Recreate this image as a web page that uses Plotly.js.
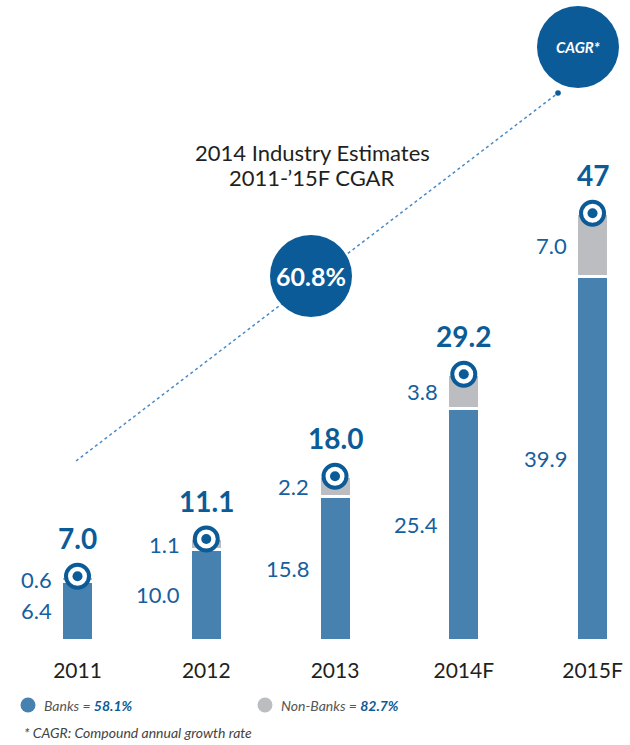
<!DOCTYPE html>
<html>
<head>
<meta charset="utf-8">
<script src="https://cdn.plot.ly/plotly-3.0.1.min.js"></script>
<style>html,body{margin:0;padding:0;background:#fff;}#chart{width:630px;height:745px;}</style>
</head>
<body>
<div id="chart"></div>
<script>
// ---- data ----
var categories = ['2011', '2012', '2013', '2014F', '2015F'];
var banks = [6.4, 10.0, 15.8, 25.4, 39.9];
var nonBanks = [0.6, 1.1, 2.2, 3.8, 7.0];
var totalLabels = ['7.0', '11.1', '18.0', '29.2', '47'];
var cagrTotal = '60.8%';
var cagrBanks = '58.1%';
var cagrNonBanks = '82.7%';

// ---- styling ----
var BLUE_BAR = '#4781af';
var GREY_BAR = '#bcbdc0';
var DARK_BLUE = '#0b5b98';
var TEXT_BLUE = '#1560a0';
var DARK = '#231f20';
var W = 630, PH = 640;
function px(x) { return x / W; }
function py(y) { return 1 - y / PH; }

var idx = categories.map(function (c, i) { return i; });
var totals = banks.map(function (b, i) { return b + nonBanks[i]; });

var traces = [
  { type: 'bar', x: idx, y: banks, width: 0.2485, name: 'Banks',
    marker: { color: BLUE_BAR, line: { color: '#fff', width: 3 } }, hoverinfo: 'skip' },
  { type: 'bar', x: idx, y: nonBanks, width: 0.2485, name: 'Non-Banks',
    marker: { color: GREY_BAR, line: { color: '#fff', width: 3 } }, hoverinfo: 'skip' },
  { type: 'scatter', mode: 'markers', x: idx, y: totals,
    marker: { size: 23, color: '#fff', line: { color: DARK_BLUE, width: 4 } }, hoverinfo: 'skip' },
  { type: 'scatter', mode: 'markers', x: idx, y: totals,
    marker: { size: 10, color: DARK_BLUE, line: { width: 0 } }, hoverinfo: 'skip' }
];

var ann = [];
idx.forEach(function (i) {
  ann.push({ x: i, y: totals[i], xref: 'x', yref: 'y', yshift: 38, text: '<b>' + totalLabels[i] + '</b>',
    showarrow: false, xanchor: 'center', yanchor: 'middle',
    font: { family: 'Lato, Roboto, sans-serif', size: 28, color: DARK_BLUE } });
  ann.push({ x: i, y: banks[i] / 2, xref: 'x', yref: 'y', xshift: -24, text: banks[i].toFixed(1),
    showarrow: false, xanchor: 'right', yanchor: 'middle',
    font: { family: 'Lato, Roboto, sans-serif', size: 22, color: TEXT_BLUE } });
  ann.push({ x: i, y: banks[i] + nonBanks[i] / 2, xref: 'x', yref: 'y', xshift: -24, text: nonBanks[i].toFixed(1),
    showarrow: false, xanchor: 'right', yanchor: 'middle',
    font: { family: 'Lato, Roboto, sans-serif', size: 22, color: TEXT_BLUE } });
});

ann.push({ x: px(312), y: py(152), xref: 'paper', yref: 'paper', showarrow: false,
  text: '2014 Industry Estimates', align: 'center', xanchor: 'center', yanchor: 'middle',
  font: { family: 'Lato, sans-serif', size: 22, color: DARK } });
ann.push({ x: px(312), y: py(178), xref: 'paper', yref: 'paper', showarrow: false,
  text: '2011-\u201915F CGAR', align: 'center', xanchor: 'center', yanchor: 'middle',
  font: { family: 'Lato, sans-serif', size: 22, color: DARK } });
ann.push({ x: px(311), y: py(276), xref: 'paper', yref: 'paper', showarrow: false,
  text: '<b>' + cagrTotal + '</b>', xanchor: 'center', yanchor: 'middle',
  font: { family: 'Lato, sans-serif', size: 25, color: '#fff' } });
ann.push({ x: px(578), y: py(47), xref: 'paper', yref: 'paper', showarrow: false,
  text: '<b><i>CAGR*</i></b>', xanchor: 'center', yanchor: 'middle',
  font: { family: 'Lato, sans-serif', size: 15, color: '#fff' } });
ann.push({ x: px(42), y: py(705), xref: 'paper', yref: 'paper', showarrow: false,
  text: '<i>Banks = </i><span style="color:' + DARK_BLUE + '"><b><i>' + cagrBanks + '</i></b></span>',
  xanchor: 'left', yanchor: 'middle', font: { family: 'Lato, sans-serif', size: 14, color: '#555' } });
ann.push({ x: px(279), y: py(705), xref: 'paper', yref: 'paper', showarrow: false,
  text: '<i>Non-Banks = </i><span style="color:' + DARK_BLUE + '"><b><i>' + cagrNonBanks + '</i></b></span>',
  xanchor: 'left', yanchor: 'middle', font: { family: 'Lato, sans-serif', size: 14, color: '#555' } });
ann.push({ x: px(22), y: py(732), xref: 'paper', yref: 'paper', showarrow: false,
  text: '<i>* CAGR: Compound annual growth rate</i>',
  xanchor: 'left', yanchor: 'middle', font: { family: 'Lato, sans-serif', size: 14, color: '#444' } });

function circ(cx, cy, r, color) {
  return { type: 'circle', xref: 'paper', yref: 'paper', x0: px(cx - r), x1: px(cx + r),
    y0: py(cy + r), y1: py(cy - r), fillcolor: color, line: { width: 0 }, layer: 'above' };
}
var shapes = [
  { type: 'line', xref: 'paper', yref: 'paper', x0: px(76), y0: py(461), x1: px(558), y1: py(93),
    line: { color: '#4a8ac6', width: 1.5, dash: 'dot' }, layer: 'above' },
  circ(558, 93, 2.8, DARK_BLUE),
  circ(311, 276, 41, DARK_BLUE),
  circ(578, 47, 41, DARK_BLUE),
  circ(28, 705, 7.5, BLUE_BAR),
  circ(265, 705, 7.5, GREY_BAR)
];

var layout = {
  width: 630, height: 745,
  margin: { l: 0, r: 0, t: 0, b: 105 },
  paper_bgcolor: '#fff', plot_bgcolor: '#fff',
  barmode: 'stack', showlegend: false,
  xaxis: { range: [-0.602, 4.291], tickvals: idx, ticktext: categories, showgrid: false, zeroline: false,
    showline: false, ticks: 'outside', ticklen: 12, tickcolor: 'rgba(0,0,0,0)',
    tickfont: { family: 'Lato, sans-serif', size: 21, color: DARK },
    fixedrange: true },
  yaxis: { range: [0, PH / 9.1], visible: false, fixedrange: true },
  annotations: ann,
  shapes: shapes
};

Plotly.newPlot('chart', traces, layout, { displayModeBar: false, staticPlot: true });
</script>
</body>
</html>
